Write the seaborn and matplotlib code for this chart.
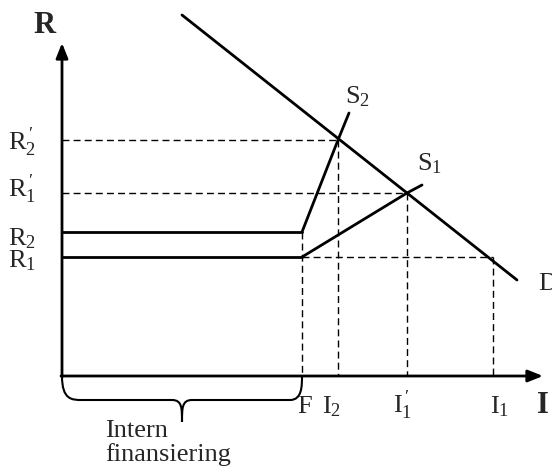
import numpy as np
import matplotlib
matplotlib.use('Agg')
import matplotlib.pyplot as plt
from matplotlib.path import Path
from matplotlib.patches import PathPatch
import pandas as pd
import seaborn as sns

# data units: origin at the axis crossing, y upward
F = 240
I2 = 276
I1p = 345
I1 = 431
R1 = 119
R2 = 144
R1p = 183
R2p = 236

D_x = [120, 455]
D_y = [361, 96]
S1_x = [F, I1p, 360]
S1_y = [R1, R1p, 191]
S2_x = [F, I2, 287]
S2_y = [R2, R2p, 263]

sns.set_theme(style='white')
plt.rcParams['font.family'] = ['Liberation Serif', 'DejaVu Serif']
plt.rcParams['mathtext.fontset'] = 'custom'
plt.rcParams['mathtext.rm'] = 'Liberation Serif'
plt.rcParams['mathtext.it'] = 'Liberation Serif'

fig = plt.figure(figsize=(5.52, 4.70), dpi=100)
ax = fig.add_axes([0, 0, 1, 1])
ax.set_xlim(-62, 490)
ax.set_ylim(-94, 376)
ax.axis('off')

lw = 2.0
dash = dict(color='black', lw=1.0, linestyle=(0, (5, 3)))

# dashed guides
ax.plot([0, I2], [R2p, R2p], **dash)
ax.plot([0, I1p], [R1p, R1p], **dash)
ax.plot([F, I1], [R1, R1], **dash)
ax.plot([F, F], [R2, 0], **dash)
ax.plot([I2, I2], [R2p, 0], **dash)
ax.plot([I1p, I1p], [R1p, 0], **dash)
ax.plot([I1, I1], [R1, 0], **dash)

# flat internal-finance parts
ax.plot([0, F], [R2, R2], color='black', lw=lw)
ax.plot([0, F], [R1, R1], color='black', lw=lw)

# supply and demand
sns.lineplot(x=D_x, y=D_y, sort=False, color='black', lw=lw, ax=ax)
sns.lineplot(x=S1_x, y=S1_y, sort=False, color='black', lw=lw, ax=ax)
sns.lineplot(x=S2_x, y=S2_y, sort=False, color='black', lw=lw, ax=ax)

# axes with arrows
head = '-|>,head_length=0.75,head_width=0.3'
ax.annotate('', xy=(0, 333), xytext=(0, -1),
            arrowprops=dict(arrowstyle=head, color='black', lw=lw, shrinkA=0, shrinkB=0))
ax.annotate('', xy=(481, 0), xytext=(-1, 0),
            arrowprops=dict(arrowstyle=head, color='black', lw=lw, shrinkA=0, shrinkB=0))

# brace below the axis
verts = [(0, 0), (0, -24), (10, -24), (20, -24),
         (60, -24), (100, -24), (110, -24),
         (120, -24), (120, -32), (120, -46),
         (120, -32), (120, -24), (130, -24),
         (180, -24), (220, -24), (228, -24),
         (240, -24), (240, -10), (240, 0)]
codes = [Path.MOVETO] + [Path.CURVE4] * 18
ax.add_patch(PathPatch(Path(verts, codes), fill=False, lw=1.5, color='black'))

fs = 19
ax.text(-54, 226, r'$\mathrm{R}_{2}^{\,\prime}$', fontsize=fs, ha='left', va='baseline')
ax.text(-54, 179, r'$\mathrm{R}_{1}^{\,\prime}$', fontsize=fs, ha='left', va='baseline')
ax.text(-54, 131, r'$\mathrm{R}_{2}$', fontsize=fs, ha='left', va='baseline')
ax.text(-54, 109, r'$\mathrm{R}_{1}$', fontsize=fs, ha='left', va='baseline')
ax.text(-29, 343, 'R', fontsize=22, fontweight='bold', ha='left', va='baseline')
ax.text(475, -37, 'I', fontsize=22, fontweight='bold', ha='left', va='baseline')

ax.text(235, -37, 'F', fontsize=fs, ha='left', va='baseline')
ax.text(260, -37, r'$\mathrm{I}_{2}$', fontsize=fs, ha='left', va='baseline')
ax.text(331, -37, r'$\mathrm{I}_{1}^{\,\prime}$', fontsize=fs, ha='left', va='baseline')
ax.text(428, -37, r'$\mathrm{I}_{1}$', fontsize=fs, ha='left', va='baseline')

ax.text(283, 273, r'$\mathrm{S}_{2}$', fontsize=fs, ha='left', va='baseline')
ax.text(355, 206, r'$\mathrm{S}_{1}$', fontsize=fs, ha='left', va='baseline')
ax.text(476, 86, 'D', fontsize=fs, ha='left', va='baseline')

ax.text(43, -61, 'Intern', fontsize=fs, ha='left', va='baseline')
ax.text(43, -85, 'finansiering', fontsize=fs, ha='left', va='baseline')

fig.savefig('out.png', dpi=100)
